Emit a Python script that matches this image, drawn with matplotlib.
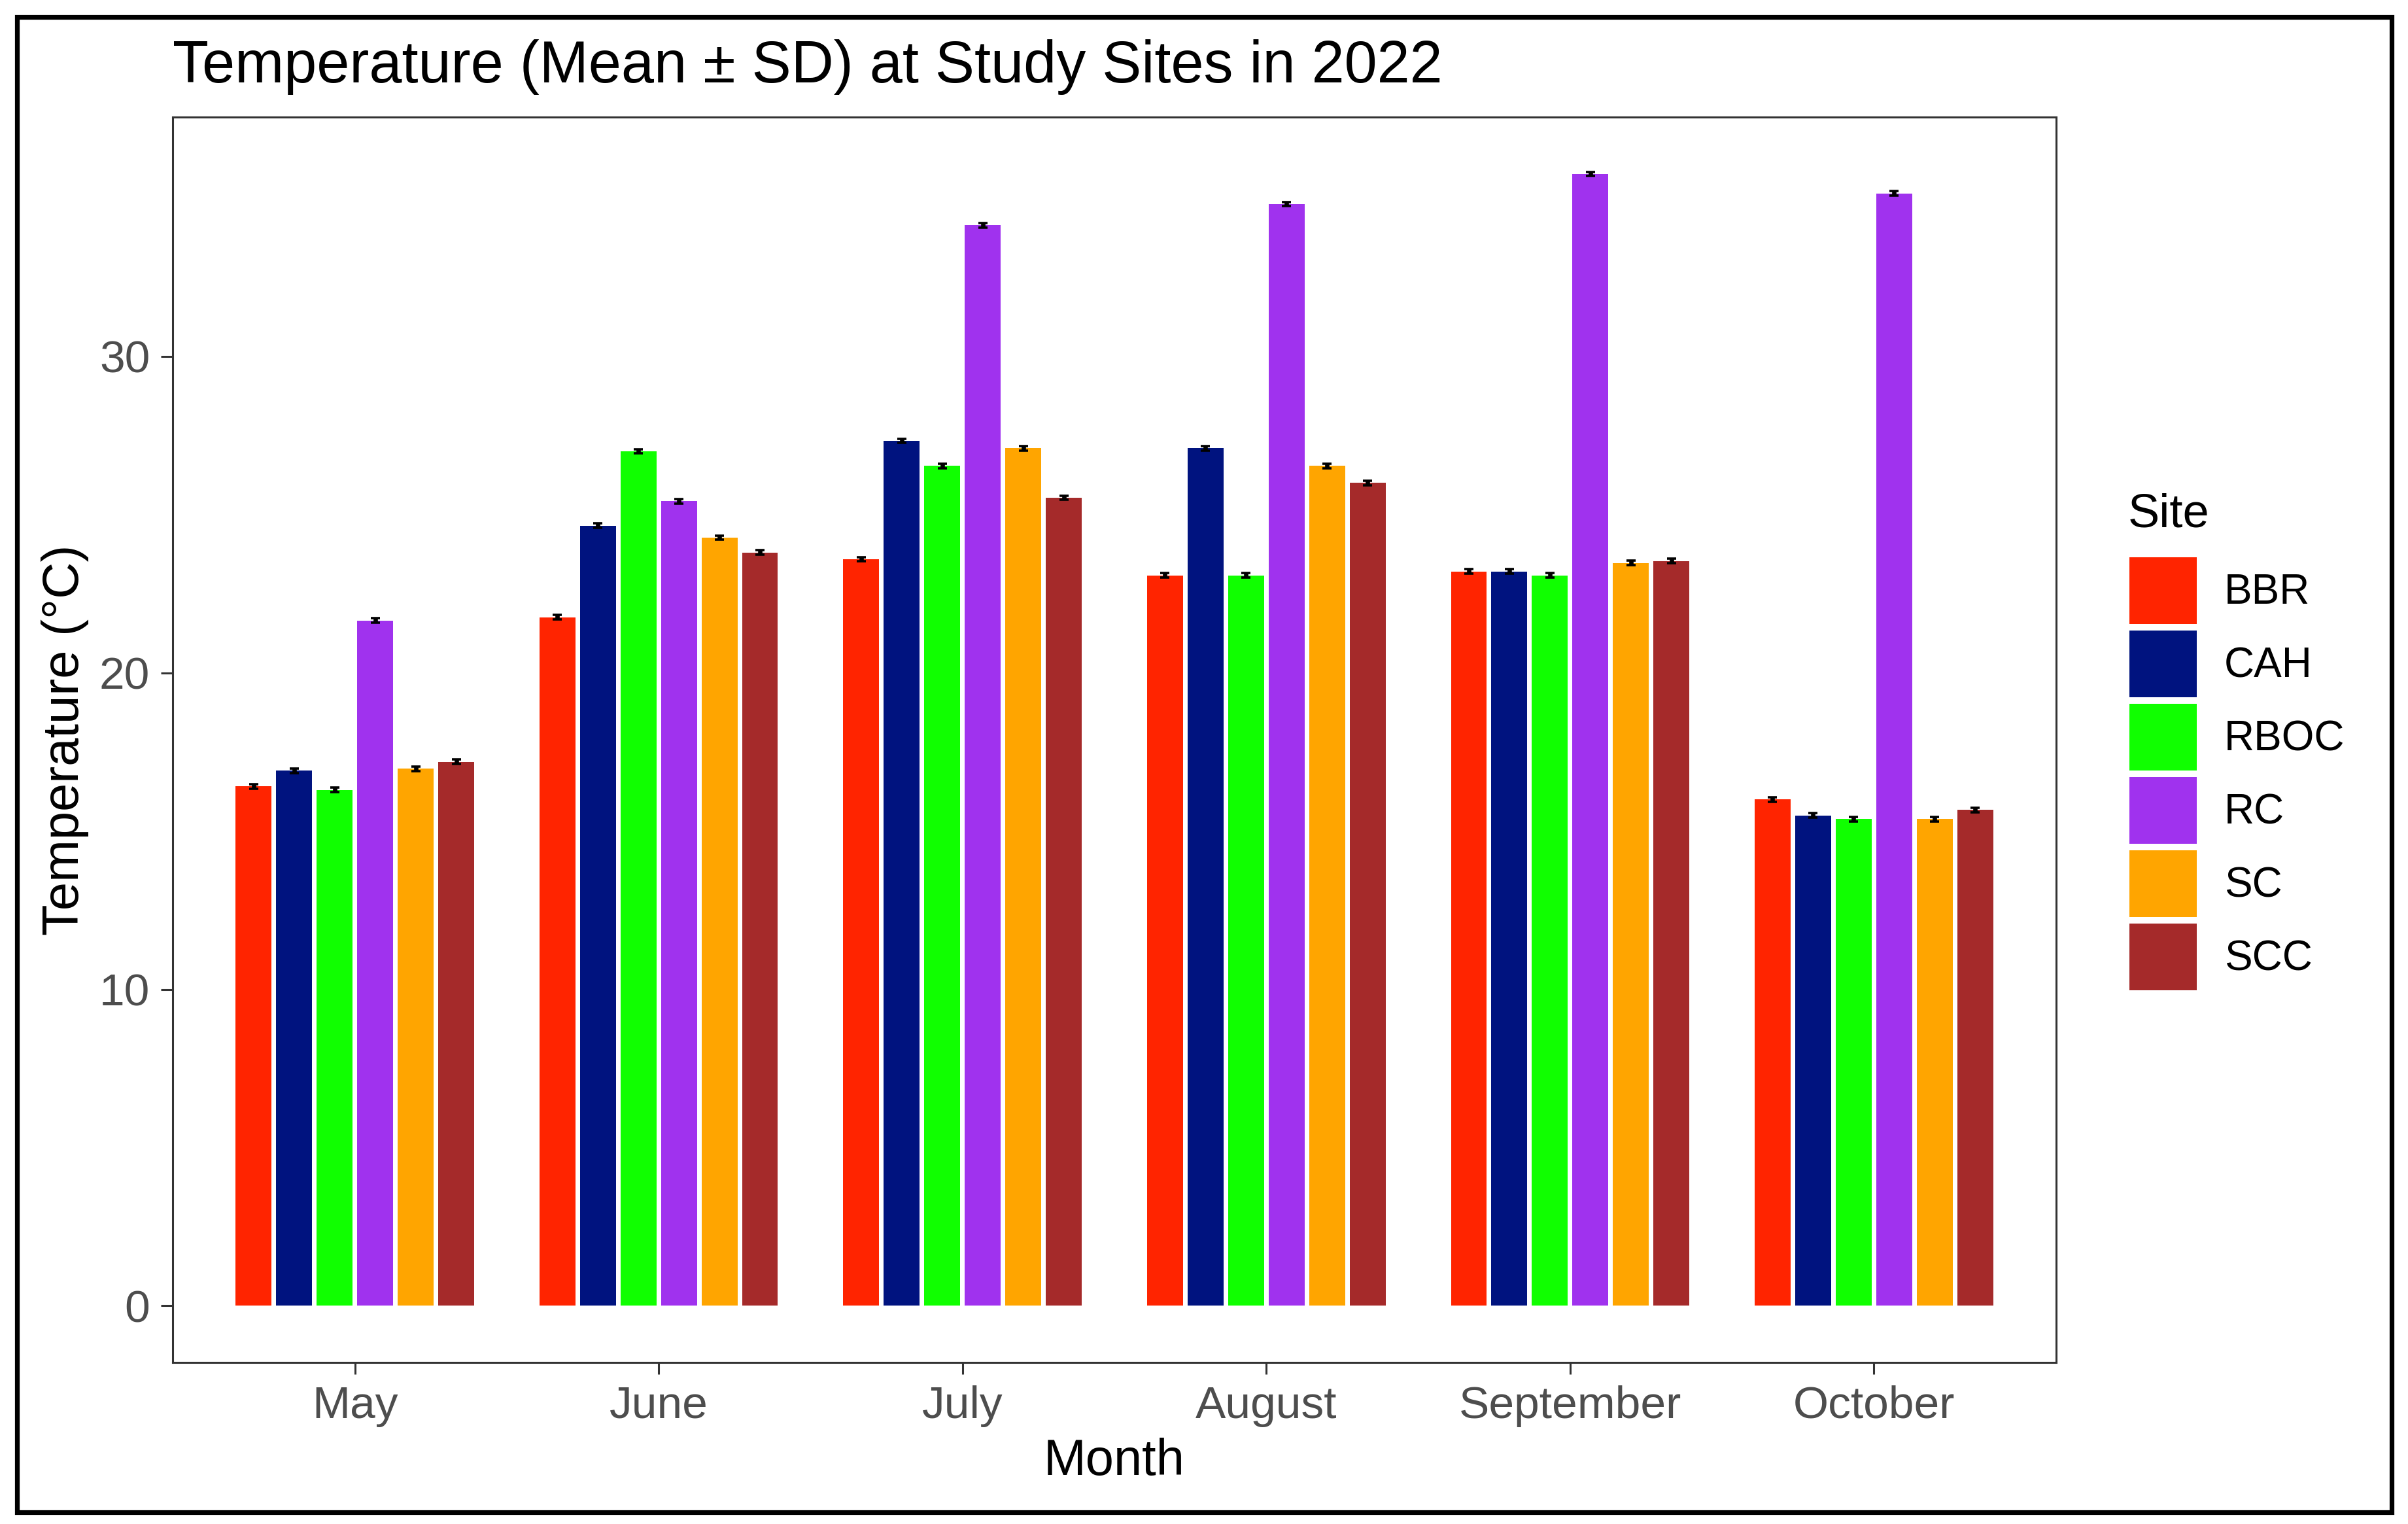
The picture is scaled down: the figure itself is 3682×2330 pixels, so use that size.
import matplotlib
matplotlib.use("Agg")
import matplotlib.pyplot as plt
from matplotlib.patches import Patch, Rectangle
import numpy as np

plt.rcParams['font.family'] = ['Liberation Sans', 'DejaVu Sans']

# ---- data ----
months = ["May", "June", "July", "August", "September", "October"]
sites = ["BBR", "CAH", "RBOC", "RC", "SC", "SCC"]
colors = ["#FF2400", "#00137F", "#10FF00", "#A032EE", "#FFA500", "#A52A2A"]

bbr = [16.41, 21.76, 23.59, 23.08, 23.20, 16.00]
cah = [16.91, 24.65, 27.33, 27.10, 23.20, 15.49]
rboc = [16.30, 27.00, 26.54, 23.08, 23.08, 15.38]
rc = [21.65, 25.42, 34.14, 34.81, 35.76, 35.15]
sc = [16.97, 24.27, 27.10, 26.54, 23.47, 15.38]
scc = [17.19, 23.80, 25.53, 26.00, 23.53, 15.67]

bbr_sd = [0.07, 0.07, 0.07, 0.07, 0.07, 0.07]
cah_sd = [0.07, 0.07, 0.07, 0.07, 0.07, 0.07]
rboc_sd = [0.07, 0.07, 0.07, 0.07, 0.07, 0.07]
rc_sd = [0.07, 0.07, 0.07, 0.07, 0.07, 0.07]
sc_sd = [0.07, 0.07, 0.07, 0.07, 0.07, 0.07]
scc_sd = [0.07, 0.07, 0.07, 0.07, 0.07, 0.07]

means = [bbr, cah, rboc, rc, sc, scc]
sds = [bbr_sd, cah_sd, rboc_sd, rc_sd, sc_sd, scc_sd]

# ---- figure ----
W, H = 3682, 2330
DPI = 200
fig = plt.figure(figsize=(W / DPI, H / DPI), dpi=DPI)

ax_l, ax_r, ax_t, ax_b = 264, 3144, 179, 2083
ax = fig.add_axes([ax_l / W, 1 - ax_b / H, (ax_r - ax_l) / W, (ax_b - ax_t) / H])

x = np.arange(len(months))
dodge = 0.8
n = len(sites)
pitch = dodge / n
bar_w = pitch * 0.885

for i, (s, m, sd, c) in enumerate(zip(sites, means, sds, colors)):
    xpos = x - dodge / 2 + pitch * (i + 0.5)
    ax.bar(xpos, m, width=bar_w, color=c, edgecolor='none', zorder=2)
    ax.errorbar(xpos, m, yerr=sd, fmt='none', ecolor='black',
                elinewidth=2.4, capsize=2.4, capthick=1.3, zorder=3)

ax.set_xlim(-0.6, len(months) - 1 + 0.6)
ax.set_ylim(-1.79, 37.56)
ax.set_xticks(x)
ax.set_xticklabels(months)
ax.set_yticks([0, 10, 20, 30])

for sp in ax.spines.values():
    sp.set_color('#333333')
    sp.set_linewidth(1.1)

ax.tick_params(axis='both', which='major', length=6.5, width=1.1,
               color='#333333', labelcolor='#4D4D4D', labelsize=25)
ax.tick_params(axis='x', pad=6)
ax.tick_params(axis='y', pad=6)

ax.set_xlabel("Month", fontsize=28, color='black', va='baseline')
ax.xaxis.set_label_coords(0.5, (ax_b - 2255) / (ax_b - ax_t))
ax.set_ylabel("Temperature (°C)", fontsize=28, color='black', va='center')
ax.yaxis.set_label_coords((100 - ax_l) / (ax_r - ax_l), 0.5)

ax.text(0, (ax_b - 126) / (ax_b - ax_t), "Temperature (Mean ± SD) at Study Sites in 2022",
        transform=ax.transAxes, fontsize=32.4, color='black', ha='left', va='baseline')

# ---- legend ----
handles = [Patch(facecolor=c, edgecolor='none', label=s) for s, c in zip(sites, colors)]
leg_fs = 23
fs_px = leg_fs * DPI / 72
key_h = 102
hh = (key_h / fs_px - 0.245) / 0.65
fig.legend(handles=handles, loc='upper left',
           bbox_to_anchor=(3256 / W, 1 - 852 / H), bbox_transform=fig.transFigure,
           frameon=False, fontsize=leg_fs, borderpad=0, borderaxespad=0,
           handlelength=103 / fs_px, handleheight=hh,
           labelspacing=10 / fs_px, handletextpad=42 / fs_px)
fig.text(3254 / W, 1 - 806 / H, "Site", fontsize=26, color='black', ha='left', va='baseline')

# ---- outer frame ----
fig.patches.append(Rectangle((26 / W, 1 - 2312 / H), (3657 - 26) / W, (2312 - 26) / H,
                             transform=fig.transFigure, fill=False, edgecolor='black',
                             linewidth=2.6, zorder=10))

fig.savefig("out.png", dpi=DPI)
